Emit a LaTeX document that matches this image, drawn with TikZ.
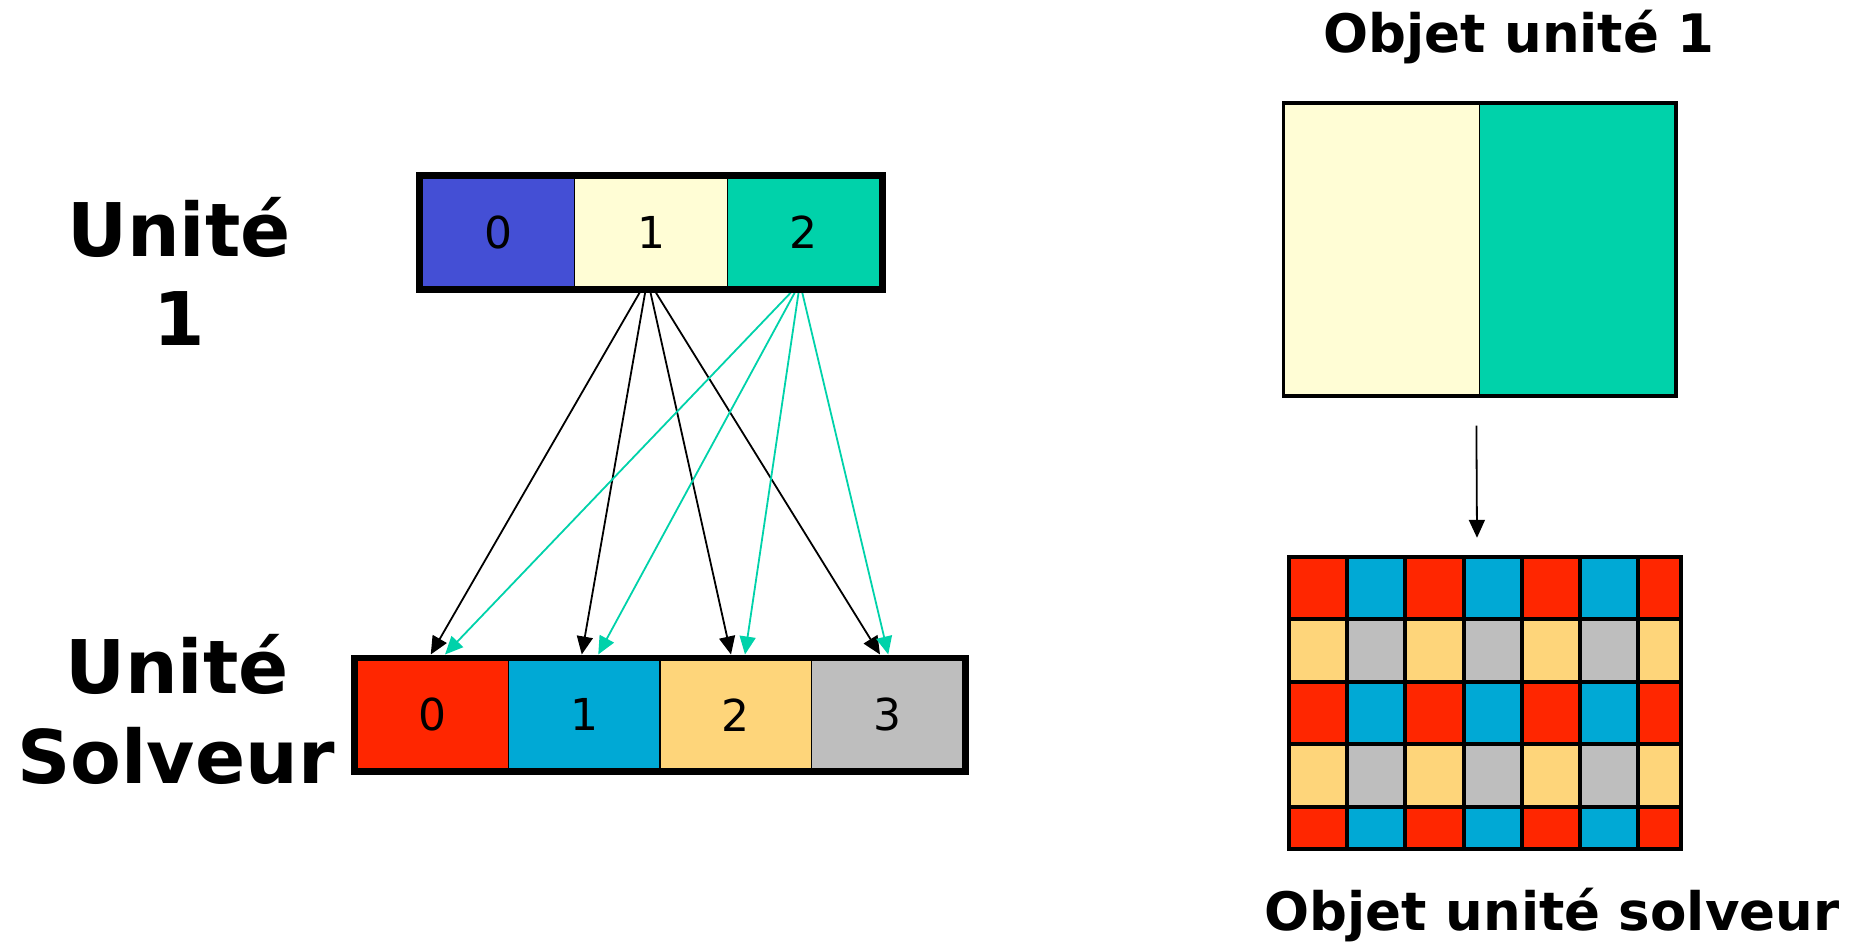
\documentclass[tikz,border=0pt]{standalone}
\usepackage{fontspec}
\setmainfont{DejaVu Sans}
\usetikzlibrary{arrows.meta,calc}
\pgfdeclarelayer{bg}
\pgfsetlayers{bg,main}

\definecolor{cIndigo}{RGB}{68,79,213}
\definecolor{cCream}{RGB}{255,253,213}
\definecolor{cTeal}{RGB}{0,210,170}
\definecolor{cRed}{RGB}{255,38,0}
\definecolor{cCyan}{RGB}{0,169,213}
\definecolor{cSand}{RGB}{254,213,122}
\definecolor{cGrey}{RGB}{190,190,190}

\begin{document}
\begin{tikzpicture}[x=1pt,y=-1pt,
  biglabel/.style={font=\fontsize{74}{89}\selectfont\bfseries, inner sep=0pt, anchor=base},
  objtitle/.style={font=\fontsize{53}{64}\selectfont\bfseries, inner sep=0pt, anchor=base},
  topcell/.style={draw=black, line width=1.2pt, inner sep=0pt,
    minimum width=152.67pt, minimum height=109pt, font=\fontsize{44}{52}\selectfont},
  botcell/.style={draw=black, line width=1.2pt, inner sep=0pt,
    minimum width=151.5pt, minimum height=108.3pt, font=\fontsize{44}{52}\selectfont},
  frame/.style={draw=black, line width=5.5pt},
  thinframe/.style={draw=black, line width=3.8pt},
  halfcell/.style={draw=black, line width=1.2pt, inner sep=0pt,
    minimum width=195.8pt, minimum height=291.6pt},
  link/.style={-{Triangle[length=18pt,width=16pt]}, line width=1.8pt},
  gridline/.style={draw=black, line width=4pt},
]
\useasboundingbox (0,0) rectangle (1866,943);

% ---------- left labels ----------
\node[biglabel] (u1a) at (179,256) {Unité};
\node[biglabel] (u1b) at (179,345) {1};
\node[biglabel] (usa) at (177,693) {Unité};
\node[biglabel] (usb) at (176,783) {Solveur};

% ---------- source unit array ----------
\node[topcell, fill=cIndigo] (t0) at (498.33,232.5) {0};
\node[topcell, fill=cCream]  (t1) at (651,232.5)    {1};
\node[topcell, fill=cTeal]   (t2) at (803.67,232.5) {2};
\draw[frame] ($(t0.north west)+(-2.5,-2.5)$) rectangle ($(t2.south east)+(2.5,2.5)$);

% ---------- solver unit array ----------
\node[botcell, fill=cRed]  (b0) at (432.75,714.85) {0};
\node[botcell, fill=cCyan] (b1) at (584.25,714.85) {1};
\node[botcell, fill=cSand] (b2) at (735.75,714.85) {2};
\node[botcell, fill=cGrey] (b3) at (887.25,714.85) {3};
\draw[frame] ($(b0.north west)+(-2.6,-2.6)$) rectangle ($(b3.south east)+(2.6,2.6)$);

% ---------- mapping arrows (behind the arrays) ----------
\begin{pgfonlayer}{bg}
  \foreach \i/\dx in {0/-2,1/-2.5,2/-4.75,3/-7.25}
    \draw[link, black] ($(t1.center)+(-3.5,46.5)$) -- ($(b\i.north)+(\dx,-5.6)$);
  \foreach \i/\dx in {0/12.25,1/14,2/9.25,3/1}
    \draw[link, cTeal] ($(t2.center)+(-3.7,50.5)$) -- ($(b\i.north)+(\dx,-5.6)$);
\end{pgfonlayer}

% ---------- unit object ----------
\node[objtitle] (ttl1) at (1519,52) {Objet unité 1};
\node[halfcell, fill=cCream] (o0) at (1381.9,249.2) {};
\node[halfcell, fill=cTeal]  (o1) at (1577.7,249.2) {};
\draw[thinframe] (o0.north west) rectangle (o1.south east);

% ---------- solver unit object (tiled pattern) ----------
\node[inner sep=0pt, minimum width=392pt, minimum height=291.5pt] (grid) at (1485,702.75) {};
\begin{scope}
  \clip (1289,557) rectangle (1681,848.5);
  \foreach \r/\ca/\cb in {0/cRed/cCyan,1/cSand/cGrey,2/cRed/cCyan,3/cSand/cGrey,4/cRed/cCyan}{
    \foreach \c in {0,2,4,6}
      \fill[\ca] (1289+\c*58.2,557+\r*62.4) rectangle ++(58.2,62.4);
    \foreach \c in {1,3,5}
      \fill[\cb] (1289+\c*58.2,557+\r*62.4) rectangle ++(58.2,62.4);
  }
\end{scope}
\foreach \c in {1,...,6}
  \draw[gridline] (1289+\c*58.2,557) -- (1289+\c*58.2,848.5);
\foreach \r in {1,...,4}
  \draw[gridline] (1289,557+\r*62.4) -- (1681,557+\r*62.4);
\draw[gridline] (grid.north west) rectangle (grid.south east);

\draw[link, black] ($(o0.south east)+(-4,30)$) -- ($(grid.north)+(-8,-19)$);
\node[objtitle] (ttl2) at (1552,930) {Objet unité solveur};

\end{tikzpicture}
\end{document}
